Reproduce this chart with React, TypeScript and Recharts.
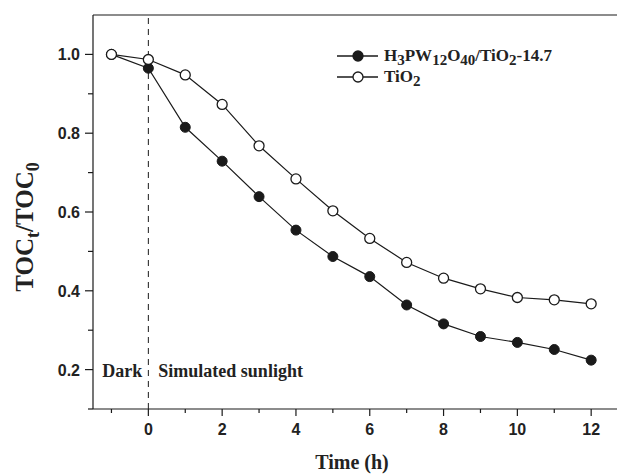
import { Legend, Line, LineChart, ReferenceLine, XAxis, YAxis } from 'recharts';

const hours = [-1, 0, 1, 2, 3, 4, 5, 6, 7, 8, 9, 10, 11, 12];
const hpwTio2 = [1.0, 0.965, 0.815, 0.729, 0.639, 0.554, 0.487, 0.436, 0.364, 0.316, 0.284, 0.269, 0.251, 0.224];
const tio2 = [1.0, 0.987, 0.948, 0.873, 0.768, 0.684, 0.603, 0.533, 0.472, 0.432, 0.405, 0.383, 0.377, 0.367];
const xTicks = [-1, 0, 1, 2, 3, 4, 5, 6, 7, 8, 9, 10, 11, 12];
const yTicks = [0.1, 0.2, 0.3, 0.4, 0.5, 0.6, 0.7, 0.8, 0.9, 1.0];

const data = hours.map((t, i) => ({ t, hpw: hpwTio2[i], tio2: tio2[i] }));

const INK = '#1a1a1a';
const SANS = '"Liberation Sans", Arial, sans-serif';
const SERIF = '"Liberation Serif", "Times New Roman", serif';

const XTick = ({ x, y, payload }: any) => {
  const v = payload.value;
  const major = v % 2 === 0;
  return (
    <g>
      <line x1={x} x2={x} y1={y} y2={y + (major ? 7 : 4)} stroke={INK} strokeWidth={1.2} />
      {major && (
        <text x={x} y={y + 26} textAnchor="middle" fontFamily={SANS} fontWeight="bold" fontSize={16} fill="#222">
          {v}
        </text>
      )}
    </g>
  );
};

const YTick = ({ x, y, payload }: any) => {
  const v = payload.value;
  const major = Math.round(v * 10) % 2 === 0;
  return (
    <g>
      <line x1={x - (major ? 8 : 5)} x2={x} y1={y} y2={y} stroke={INK} strokeWidth={1.2} />
      {major && (
        <text x={x - 13} y={y + 6} textAnchor="end" fontFamily={SANS} fontWeight="bold" fontSize={16} fill="#222">
          {v.toFixed(1)}
        </text>
      )}
    </g>
  );
};

const YTitle = () => (
  <text transform="translate(33, 227) rotate(-90)" textAnchor="middle" fontFamily={SERIF} fontWeight="bold" fontSize={25} fill="#222">
    TOC<tspan dy={6} fontSize={18}>t</tspan>
    <tspan dy={-6}>/TOC</tspan>
    <tspan dy={6} fontSize={18}>0</tspan>
  </text>
);

const XTitle = ({ viewBox }: any) => (
  <text x={viewBox.x + viewBox.width / 2 - 3} y={469} textAnchor="middle" fontFamily={SERIF} fontWeight="bold" fontSize={20} fill="#222">
    Time (h)
  </text>
);

const PhaseLabels = ({ viewBox }: any) => {
  const bottom = viewBox.y + viewBox.height;
  return (
    <g fontFamily={SERIF} fontWeight="bold" fontSize={18} fill="#222">
      <text x={viewBox.x - 6} y={bottom - 32} textAnchor="end">Dark</text>
      <text x={viewBox.x + 10} y={bottom - 32} textAnchor="start">Simulated sunlight</text>
    </g>
  );
};

const subStyle = { fontSize: 15, verticalAlign: 'sub', lineHeight: 0 } as const;

const LegendBox = () => {
  const rows = [
    { key: 'hpw', fill: INK, label: <>H<sub style={subStyle}>3</sub>PW<sub style={subStyle}>12</sub>O<sub style={subStyle}>40</sub>/TiO<sub style={subStyle}>2</sub>-14.7</> },
    { key: 'tio2', fill: '#fff', label: <>TiO<sub style={subStyle}>2</sub></> },
  ];
  return (
    <div style={{ fontFamily: SERIF, fontWeight: 'bold', fontSize: 17, color: '#222' }}>
      {rows.map((r) => (
        <div key={r.key} style={{ display: 'flex', alignItems: 'center', height: 21 }}>
          <svg width={44} height={14} style={{ marginRight: 4 }}>
            <line x1={1} x2={42} y1={7} y2={7} stroke={INK} strokeWidth={1.3} />
            <circle cx={22} cy={7} r={5} fill={r.fill} stroke={INK} strokeWidth={1.3} />
          </svg>
          <span>{r.label}</span>
        </div>
      ))}
    </div>
  );
};

export default function App() {
  return (
    <div style={{ position: 'absolute', left: 0, top: 0, background: '#fff' }}>
      <LineChart width={617} height={474} data={data} margin={{ top: 15, right: 0, bottom: 0, left: 0 }}>
        <XAxis
          dataKey="t"
          type="number"
          domain={[-1.5, 12.7]}
          ticks={xTicks}
          allowDataOverflow
          height={65}
          tickSize={0}
          tickMargin={0}
          tickLine={false}
          tick={<XTick />}
          axisLine={{ stroke: INK, strokeWidth: 1.2 }}
          label={{ content: XTitle }}
        />
        <YAxis
          type="number"
          domain={[0.1, 1.1]}
          ticks={yTicks}
          allowDataOverflow
          width={93}
          tickSize={0}
          tickMargin={0}
          tickLine={false}
          tick={<YTick />}
          axisLine={{ stroke: INK, strokeWidth: 1.2 }}
          label={{ content: YTitle }}
        />
        <ReferenceLine y={1.1} stroke={INK} strokeWidth={1.2} />
        <ReferenceLine x={0} stroke={INK} strokeWidth={1} strokeDasharray="6 5" label={{ content: PhaseLabels }} />
        <Line
          dataKey="hpw"
          stroke={INK}
          strokeWidth={1.2}
          dot={{ r: 5, fill: INK, stroke: INK, strokeWidth: 1 }}
          isAnimationActive={false}
        />
        <Line
          dataKey="tio2"
          stroke={INK}
          strokeWidth={1.2}
          dot={{ r: 5, fill: '#fff', stroke: INK, strokeWidth: 1.3 }}
          isAnimationActive={false}
        />
        <Legend
          layout="vertical"
          align="center"
          verticalAlign="middle"
          content={<LegendBox />}
          wrapperStyle={{ left: 336, top: 45, width: 270 }}
        />
      </LineChart>
    </div>
  );
}
